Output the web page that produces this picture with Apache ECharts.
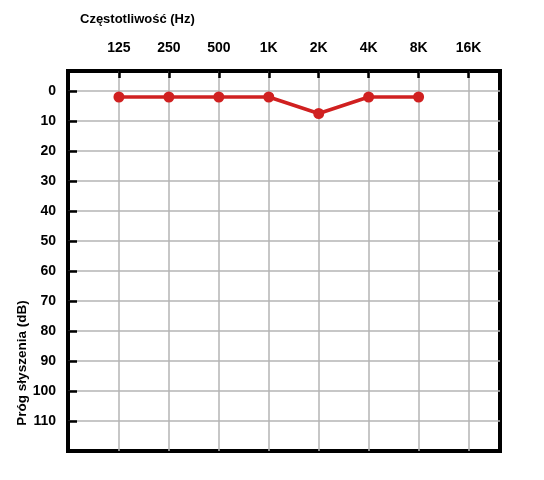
<!DOCTYPE html>
<html>
<head>
<meta charset="utf-8">
<script src="https://cdn.jsdelivr.net/npm/echarts@6/dist/echarts.min.js"></script>
<style>
  html, body { margin: 0; padding: 0; background: #fff; }
  #chart { width: 544px; height: 480px; }
</style>
</head>
<body>
<div id="chart"></div>
<script>
  // frequencies along the top axis
  const freqLabels = ['125', '250', '500', '1K', '2K', '4K', '8K', '16K'];
  // hearing threshold (dB) measured per frequency
  const thresholds = [2, 2, 2, 2, 7.5, 2, 2];
  const dbTicks = [0, 10, 20, 30, 40, 50, 60, 70, 80, 90, 100, 110];

  const freqIdx = freqLabels.map((_, i) => i);
  const font = '"Liberation Sans", Arial, sans-serif';

  const chart = echarts.init(document.getElementById('chart'));

  chart.setOption({
    animation: false,
    grid: {
      left: 68,
      right: 44,
      top: 71,
      bottom: 29,
      show: true,
      borderColor: '#000',
      borderWidth: 4,
      backgroundColor: '#fff',
    },
    xAxis: {
      type: 'value',
      position: 'top',
      min: -1.02,
      max: 7.63,
      axisLine: { show: false, onZero: false },
      axisTick: {
        show: true,
        inside: true,
        length: 7,
        customValues: freqIdx,
        lineStyle: { color: '#000', width: 2.5 },
      },
      axisLabel: {
        customValues: freqIdx,
        formatter: (v) => freqLabels[Math.round(v)] || '',
        margin: 16,
        color: '#000',
        fontFamily: font,
        fontWeight: 'bold',
        fontSize: 14,
      },
      splitLine: { show: true, lineStyle: { color: '#b4b4b4', width: 1.5 } },
    },
    yAxis: {
      type: 'value',
      inverse: true,
      min: -6.67,
      max: 120,
      axisLine: { show: false, onZero: false },
      axisTick: {
        show: true,
        inside: true,
        length: 9,
        customValues: dbTicks,
        lineStyle: { color: '#000', width: 2.5 },
      },
      axisLabel: {
        customValues: dbTicks,
        margin: 12,
        color: '#000',
        fontFamily: font,
        fontWeight: 'bold',
        fontSize: 14,
      },
      splitLine: { show: true, lineStyle: { color: '#b4b4b4', width: 1.5 } },
    },
    graphic: [
      {
        type: 'text',
        left: 80,
        top: 13,
        style: {
          text: 'Częstotliwość (Hz)',
          fill: '#000',
          font: 'bold 13px ' + font,
        },
      },
      {
        type: 'text',
        x: 22,
        y: 363,
        rotation: Math.PI / 2,
        style: {
          text: 'Próg słyszenia (dB)',
          fill: '#000',
          font: 'bold 13.5px ' + font,
          align: 'center',
          verticalAlign: 'middle',
        },
      },
    ],
    series: [
      {
        type: 'line',
        data: thresholds.map((v, i) => [i, v]),
        symbol: 'circle',
        symbolSize: 11,
        itemStyle: { color: '#d02020' },
        lineStyle: { color: '#d02020', width: 3.5 },
      },
    ],
  });
</script>
</body>
</html>
